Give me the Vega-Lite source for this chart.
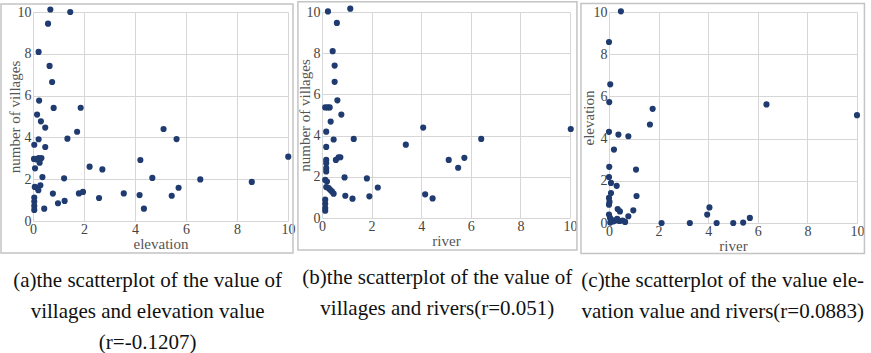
{
  "$schema": "https://vega.github.io/schema/vega-lite/v6.json",
  "padding": {"left": 0, "top": 0, "right": 0, "bottom": 0},
  "background": "white",
  "spacing": 2,
  "datasets": {
    "a": [
      {"elevation": 0.68, "villages": 10.12}, {"elevation": 1.46, "villages": 10.0}, {"elevation": 0.59, "villages": 9.44},
      {"elevation": 0.22, "villages": 8.09}, {"elevation": 0.65, "villages": 7.42}, {"elevation": 0.75, "villages": 6.65},
      {"elevation": 0.24, "villages": 5.76}, {"elevation": 0.81, "villages": 5.41}, {"elevation": 1.87, "villages": 5.42},
      {"elevation": 0.16, "villages": 5.09}, {"elevation": 0.31, "villages": 4.77}, {"elevation": 0.48, "villages": 4.47},
      {"elevation": 1.73, "villages": 4.27}, {"elevation": 1.35, "villages": 3.94}, {"elevation": 0.22, "villages": 3.91},
      {"elevation": 0.05, "villages": 3.65}, {"elevation": 0.48, "villages": 3.54}, {"elevation": 0.04, "villages": 2.97},
      {"elevation": 0.22, "villages": 3.01}, {"elevation": 0.33, "villages": 3.01}, {"elevation": 0.26, "villages": 2.79},
      {"elevation": 0.08, "villages": 2.52}, {"elevation": 0.12, "villages": 2.95}, {"elevation": 0.37, "villages": 2.1},
      {"elevation": 1.22, "villages": 2.04}, {"elevation": 0.07, "villages": 1.63}, {"elevation": 0.17, "villages": 1.59},
      {"elevation": 0.29, "villages": 1.71}, {"elevation": 0.21, "villages": 1.47}, {"elevation": 0.05, "villages": 1.12},
      {"elevation": 0.05, "villages": 0.93}, {"elevation": 0.05, "villages": 0.72}, {"elevation": 0.05, "villages": 0.53},
      {"elevation": 0.44, "villages": 0.59}, {"elevation": 0.78, "villages": 1.31}, {"elevation": 0.98, "villages": 0.85},
      {"elevation": 1.24, "villages": 0.96}, {"elevation": 1.8, "villages": 1.32}, {"elevation": 1.96, "villages": 1.39},
      {"elevation": 2.22, "villages": 2.6}, {"elevation": 2.72, "villages": 2.47}, {"elevation": 2.59, "villages": 1.1},
      {"elevation": 3.56, "villages": 1.32}, {"elevation": 4.18, "villages": 1.24}, {"elevation": 4.35, "villages": 0.59},
      {"elevation": 4.21, "villages": 2.92}, {"elevation": 4.68, "villages": 2.06}, {"elevation": 5.12, "villages": 4.4},
      {"elevation": 5.63, "villages": 3.92}, {"elevation": 5.44, "villages": 1.21}, {"elevation": 5.71, "villages": 1.59},
      {"elevation": 6.56, "villages": 1.99}, {"elevation": 8.58, "villages": 1.87}, {"elevation": 10.01, "villages": 3.08}
    ],
    "b": [
      {"river": 0.24, "villages": 10.03}, {"river": 1.14, "villages": 10.16}, {"river": 0.6, "villages": 9.47},
      {"river": 0.43, "villages": 8.1}, {"river": 0.51, "villages": 7.4}, {"river": 0.51, "villages": 6.61},
      {"river": 0.62, "villages": 5.71}, {"river": 0.13, "villages": 5.37}, {"river": 0.23, "villages": 5.37},
      {"river": 0.31, "villages": 5.37}, {"river": 0.78, "villages": 5.02}, {"river": 0.35, "villages": 4.68},
      {"river": 0.17, "villages": 4.19}, {"river": 0.47, "villages": 3.81}, {"river": 1.28, "villages": 3.84},
      {"river": 0.17, "villages": 3.45}, {"river": 0.17, "villages": 2.82}, {"river": 0.17, "villages": 2.66},
      {"river": 0.17, "villages": 2.42}, {"river": 0.17, "villages": 2.26}, {"river": 0.56, "villages": 2.82},
      {"river": 0.67, "villages": 2.95}, {"river": 0.74, "villages": 2.95}, {"river": 0.13, "villages": 1.85},
      {"river": 0.2, "villages": 1.77}, {"river": 0.91, "villages": 1.97}, {"river": 1.81, "villages": 1.92},
      {"river": 2.25, "villages": 1.48}, {"river": 0.17, "villages": 1.5}, {"river": 0.27, "villages": 1.45},
      {"river": 0.33, "villages": 1.37}, {"river": 0.4, "villages": 1.29}, {"river": 0.47, "villages": 1.18},
      {"river": 0.94, "villages": 1.08}, {"river": 1.23, "villages": 0.94}, {"river": 1.91, "villages": 1.05},
      {"river": 0.13, "villages": 0.89}, {"river": 0.13, "villages": 0.69}, {"river": 0.13, "villages": 0.48},
      {"river": 0.13, "villages": 0.35}, {"river": 3.38, "villages": 3.56}, {"river": 4.08, "villages": 4.39},
      {"river": 4.16, "villages": 1.15}, {"river": 4.46, "villages": 0.95}, {"river": 5.11, "villages": 2.82},
      {"river": 5.49, "villages": 2.44}, {"river": 5.74, "villages": 2.92}, {"river": 6.42, "villages": 3.84},
      {"river": 10.03, "villages": 4.32}
    ],
    "c": [
      {"river": 0.48, "elevation": 10.03}, {"river": 0.0, "elevation": 8.58}, {"river": 0.05, "elevation": 6.57},
      {"river": 0.01, "elevation": 5.73}, {"river": 0.0, "elevation": 4.32}, {"river": 0.38, "elevation": 4.19},
      {"river": 0.78, "elevation": 4.11}, {"river": 0.2, "elevation": 3.48}, {"river": 0.01, "elevation": 2.66},
      {"river": 0.0, "elevation": 2.18}, {"river": 0.08, "elevation": 1.9}, {"river": 0.31, "elevation": 1.76},
      {"river": 0.08, "elevation": 1.42}, {"river": 0.0, "elevation": 1.19}, {"river": 0.0, "elevation": 0.87},
      {"river": 0.02, "elevation": 1.0}, {"river": 0.35, "elevation": 0.66}, {"river": 0.44, "elevation": 0.55},
      {"river": 0.0, "elevation": 0.4}, {"river": 0.04, "elevation": 0.25}, {"river": 0.1, "elevation": 0.15},
      {"river": 0.18, "elevation": 0.08}, {"river": 0.25, "elevation": 0.12}, {"river": 0.33, "elevation": 0.2},
      {"river": 0.42, "elevation": 0.1}, {"river": 0.55, "elevation": 0.12}, {"river": 0.65, "elevation": 0.05},
      {"river": 0.05, "elevation": 0.02}, {"river": 0.78, "elevation": 0.32}, {"river": 0.98, "elevation": 0.6},
      {"river": 1.09, "elevation": 2.53}, {"river": 1.11, "elevation": 1.28}, {"river": 1.65, "elevation": 4.67},
      {"river": 1.76, "elevation": 5.41}, {"river": 2.12, "elevation": 0.0}, {"river": 3.26, "elevation": 0.0},
      {"river": 3.96, "elevation": 0.4}, {"river": 4.05, "elevation": 0.74}, {"river": 4.34, "elevation": 0.0},
      {"river": 5.01, "elevation": 0.0}, {"river": 5.41, "elevation": 0.02}, {"river": 5.68, "elevation": 0.24},
      {"river": 6.35, "elevation": 5.62}, {"river": 10.0, "elevation": 5.11}
    ],
    "frame": [{"panel": "frame"}]
  },
  "hconcat": [
    {
      "width": 255, "height": 209,
      "title": {"text": ["(a)the scatterplot of the value of", "villages and elevation value", "(r=-0.1207)"]},
      "layer": [
        {
          "data": {"name": "a"},
          "mark": {"type": "circle", "size": 38, "opacity": 1, "color": "#1f3b70"},
          "encoding": {
            "x": {"field": "elevation", "type": "quantitative", "title": "elevation", "scale": {"domain": [0, 10], "nice": false}, "axis": {"values": [0, 2, 4, 6, 8, 10]}},
            "y": {"field": "villages", "type": "quantitative", "title": "number of villages", "scale": {"domain": [0, 10], "nice": false}, "axis": {"values": [0, 2, 4, 6, 8, 10], "titlePadding": -5}}
          }
        },
        {
          "data": {"name": "frame"},
          "mark": {"type": "rect", "fill": null, "stroke": "#c4c4c4", "strokeWidth": 1.5},
          "encoding": {
            "x": {"datum": -1.255, "type": "quantitative"}, "x2": {"datum": 10.196},
            "y": {"datum": -1.53, "type": "quantitative"}, "y2": {"datum": 10.38}
          }
        }
      ]
    },
    {
      "width": 248, "height": 206,
      "title": {"text": ["(b)the scatterplot of the value of", "villages and rivers(r=0.051)"]},
      "layer": [
        {
          "data": {"name": "b"},
          "mark": {"type": "circle", "size": 38, "opacity": 1, "color": "#1f3b70"},
          "encoding": {
            "x": {"field": "river", "type": "quantitative", "title": "river", "scale": {"domain": [0, 10], "nice": false}, "axis": {"values": [0, 2, 4, 6, 8, 10]}},
            "y": {"field": "villages", "type": "quantitative", "title": "number of villages", "scale": {"domain": [0, 10], "nice": false}, "axis": {"values": [0, 2, 4, 6, 8, 10], "titlePadding": -6}}
          }
        },
        {
          "data": {"name": "frame"},
          "mark": {"type": "rect", "fill": null, "stroke": "#c4c4c4", "strokeWidth": 1.5},
          "encoding": {
            "x": {"datum": -0.97, "type": "quantitative"}, "x2": {"datum": 10.28},
            "y": {"datum": -1.55, "type": "quantitative"}, "y2": {"datum": 10.5}
          }
        }
      ]
    },
    {
      "width": 248, "height": 211,
      "title": {"text": ["(c)the scatterplot of the value ele-", "vation value and rivers(r=0.0883)"]},
      "layer": [
        {
          "data": {"name": "c"},
          "mark": {"type": "circle", "size": 38, "opacity": 1, "color": "#1f3b70"},
          "encoding": {
            "x": {"field": "river", "type": "quantitative", "title": "river", "scale": {"domain": [0, 10], "nice": false}, "axis": {"values": [0, 2, 4, 6, 8, 10]}},
            "y": {"field": "elevation", "type": "quantitative", "title": "elevation", "scale": {"domain": [0, 10], "nice": false}, "axis": {"values": [0, 2, 4, 6, 8, 10], "titlePadding": -3}}
          }
        },
        {
          "data": {"name": "frame"},
          "mark": {"type": "rect", "fill": null, "stroke": "#c4c4c4", "strokeWidth": 1.5},
          "encoding": {
            "x": {"datum": -1.13, "type": "quantitative"}, "x2": {"datum": 10.3},
            "y": {"datum": -1.45, "type": "quantitative"}, "y2": {"datum": 10.4}
          }
        }
      ]
    }
  ],
  "config": {
    "view": {"stroke": null},
    "title": {"orient": "bottom", "anchor": "middle", "frame": "bounds", "font": "Liberation Serif", "fontSize": 21, "fontWeight": "normal", "color": "#111", "lineHeight": 31, "offset": 16, "baseline": "top"},
    "axis": {
      "grid": true, "labelFlush": false,
      "labelFont": "Liberation Serif", "labelFontSize": 14, "labelColor": "#444",
      "titleFont": "Liberation Serif", "titleFontSize": 15, "titleFontWeight": "normal", "titleColor": "#555",
      "gridColor": "#d6d6d6", "gridWidth": 1, "domain": false, "ticks": false, "labelPadding": 2, "titlePadding": 0
    },
    "axisX": {"labelPadding": 1, "titlePadding": 0}
  }
}
